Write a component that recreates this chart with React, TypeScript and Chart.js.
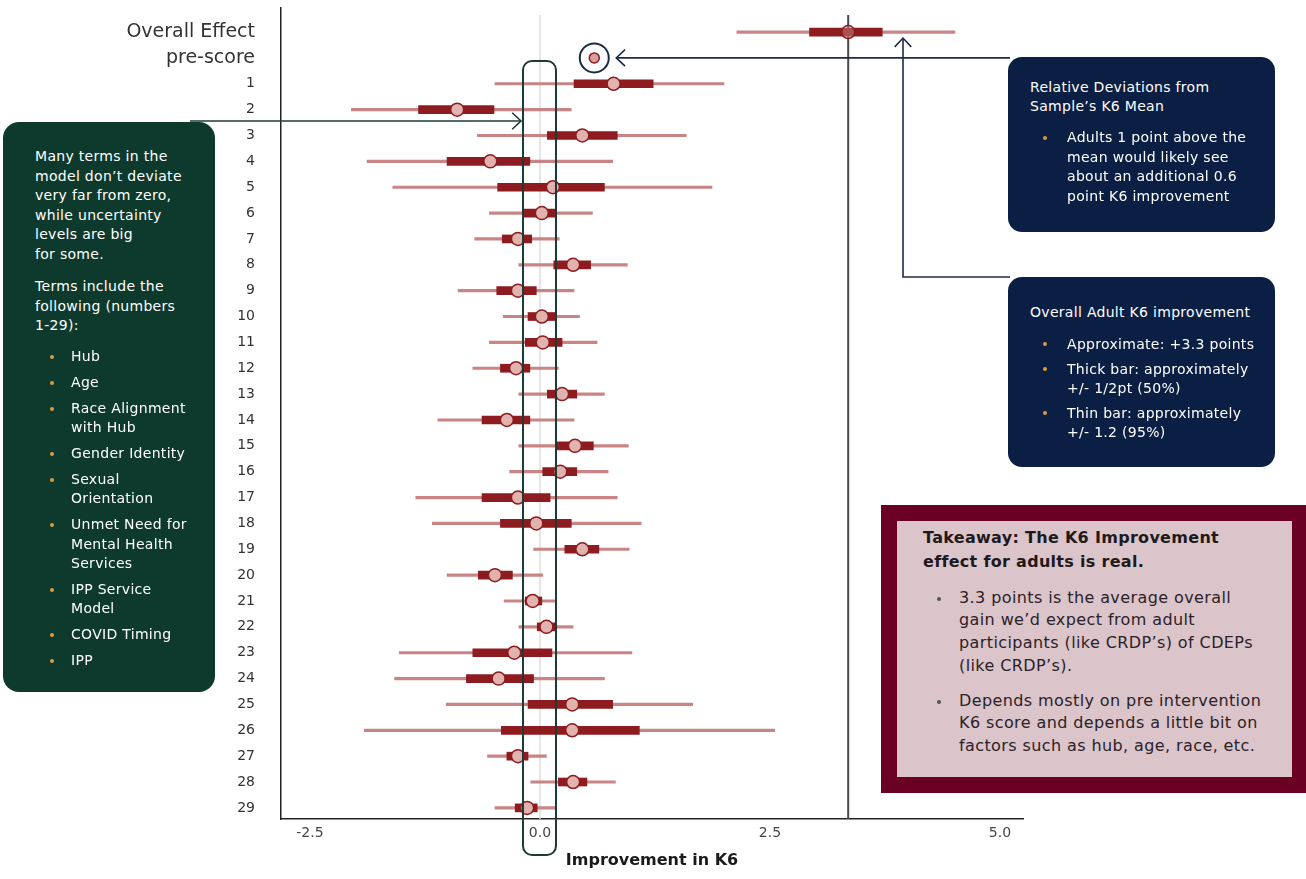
import React, { useEffect, useRef } from 'react';
import { Chart, registerables } from 'chart.js';
Chart.register(...registerables);

const FONT = "'DejaVu Sans', sans-serif";

const rowLabels = ['Overall Effect', 'pre-score', '1', '2', '3', '4', '5', '6', '7', '8', '9', '10', '11', '12', '13', '14', '15', '16', '17', '18', '19', '20', '21', '22', '23', '24', '25', '26', '27', '28', '29'];
const estimates = [3.35, 0.59, 0.80, -0.90, 0.46, -0.54, 0.14, 0.02, -0.24, 0.36, -0.24, 0.02, 0.03, -0.26, 0.24, -0.36, 0.38, 0.22, -0.24, -0.04, 0.46, -0.49, -0.08, 0.07, -0.28, -0.45, 0.35, 0.35, -0.24, 0.36, -0.14];
const thickLow = [2.93, null, 0.37, -1.32, 0.08, -1.01, -0.46, -0.18, -0.41, 0.15, -0.47, -0.13, -0.16, -0.43, 0.08, -0.63, 0.17, 0.03, -0.63, -0.43, 0.27, -0.67, -0.16, -0.03, -0.73, -0.80, -0.13, -0.42, -0.36, 0.20, -0.27];
const thickHigh = [3.72, null, 1.23, -0.50, 0.84, -0.11, 0.70, 0.18, -0.09, 0.55, -0.04, 0.16, 0.24, -0.11, 0.40, -0.11, 0.58, 0.40, 0.11, 0.34, 0.64, -0.30, 0.02, 0.16, 0.13, -0.07, 0.79, 1.08, -0.13, 0.51, -0.03];
const thinLow = [2.14, null, -0.49, -2.05, -0.68, -1.88, -1.60, -0.55, -0.71, -0.23, -0.89, -0.40, -0.55, -0.73, -0.23, -1.11, -0.23, -0.33, -1.35, -1.17, -0.07, -1.01, -0.39, -0.23, -1.53, -1.58, -1.02, -1.91, -0.57, -0.10, -0.49];
const thinHigh = [4.51, null, 2.00, 0.34, 1.59, 0.79, 1.87, 0.57, 0.21, 0.95, 0.37, 0.43, 0.62, 0.20, 0.70, 0.37, 0.96, 0.74, 0.84, 1.10, 0.97, 0.03, 0.18, 0.36, 1.00, 0.70, 1.66, 2.55, 0.07, 0.82, 0.18];
const xTickValues = [-2.5, 0, 2.5, 5.0];
const xAxisTitle = 'Improvement in K6';

const greenItems = [['Hub'], ['Age'], ['Race Alignment', 'with Hub'], ['Gender Identity'], ['Sexual', 'Orientation'], ['Unmet Need for', 'Mental Health', 'Services'], ['IPP Service', 'Model'], ['COVID Timing'], ['IPP']];

const NAVY_LINE = '#1c2b45';

function arrowHead(ctx: CanvasRenderingContext2D, x: number, y: number, dir: 'left' | 'right' | 'up') {
  const L = 11;
  ctx.beginPath();
  if (dir === 'left') {
    ctx.moveTo(x + L * 0.8, y - L * 0.75); ctx.lineTo(x, y); ctx.lineTo(x + L * 0.8, y + L * 0.75);
  } else if (dir === 'right') {
    ctx.moveTo(x - L * 0.8, y - L * 0.75); ctx.lineTo(x, y); ctx.lineTo(x - L * 0.8, y + L * 0.75);
  } else {
    ctx.moveTo(x - L * 0.75, y + L * 0.8); ctx.lineTo(x, y); ctx.lineTo(x + L * 0.75, y + L * 0.8);
  }
  ctx.stroke();
}

const annotPlugin = {
  id: 'annot',
  beforeDatasetsDraw(chart: any) {
    const { ctx, scales, chartArea } = chart;
    const xs = scales.x;
    ctx.save();
    const x0 = xs.getPixelForValue(0);
    ctx.strokeStyle = '#dedede';
    ctx.lineWidth = 1.5;
    ctx.beginPath(); ctx.moveTo(x0, 15); ctx.lineTo(x0, chartArea.bottom); ctx.stroke();
    const xo = xs.getPixelForValue(estimates[0]);
    ctx.strokeStyle = '#4a4a4a';
    ctx.lineWidth = 2;
    ctx.beginPath(); ctx.moveTo(xo, 15); ctx.lineTo(xo, chartArea.bottom); ctx.stroke();
    ctx.restore();
  },
  afterDatasetsDraw(chart: any) {
    const { ctx, scales } = chart;
    const xs = scales.x, ys = scales.y;
    ctx.save();
    const x0 = xs.getPixelForValue(0);
    ctx.strokeStyle = '#1d3b36';
    ctx.lineWidth = 2;
    ctx.beginPath();
    (ctx as any).roundRect(x0 - 17, 61, 33, 794, 9);
    ctx.stroke();
    const px = xs.getPixelForValue(estimates[1]);
    const py = ys.getPixelForValue(1);
    ctx.strokeStyle = NAVY_LINE;
    ctx.lineWidth = 2;
    ctx.beginPath(); ctx.arc(px, py, 14.5, 0, Math.PI * 2); ctx.stroke();
    ctx.lineWidth = 1.6;
    ctx.strokeStyle = NAVY_LINE;
    ctx.beginPath(); ctx.moveTo(1010, py); ctx.lineTo(px + 22, py); ctx.stroke();
    arrowHead(ctx, px + 22, py, 'left');
    const ox = 903;
    const oy = ys.getPixelForValue(0) + 6;
    ctx.beginPath(); ctx.moveTo(1010, 277); ctx.lineTo(ox, 277); ctx.lineTo(ox, oy); ctx.stroke();
    arrowHead(ctx, ox, oy, 'up');
    ctx.strokeStyle = '#1d3b36';
    ctx.beginPath(); ctx.moveTo(190, 121); ctx.lineTo(x0 - 19, 121); ctx.stroke();
    arrowHead(ctx, x0 - 19, 121, 'right');
    ctx.restore();
  },
};

function Dot({ color, left, top }: { color: string; left: number; top: number }) {
  return <span style={{ position: 'absolute', left, top, width: 4, height: 4, borderRadius: '50%', background: color }} />;
}

export default function App() {
  const ref = useRef<HTMLCanvasElement>(null);
  useEffect(() => {
    const canvas = ref.current!;
    const idx = rowLabels.map((_, i) => i);
    const thinData = idx.filter((i) => thinLow[i] != null).map((i) => ({ y: i, x: [thinLow[i], thinHigh[i]] }));
    const thickData = idx.filter((i) => thickLow[i] != null).map((i) => ({ y: i, x: [thickLow[i], thickHigh[i]] }));
    const pointData = idx.map((i) => ({ x: estimates[i], y: i }));
    const chart = new Chart(canvas, {
      type: 'scatter',
      data: {
        datasets: [
          { type: 'bar', indexAxis: 'y', data: thinData as any, backgroundColor: '#c98585', barThickness: 2.5, grouped: false, order: 3, borderWidth: 0 } as any,
          { type: 'bar', indexAxis: 'y', data: thickData as any, backgroundColor: '#8e1b1f', barThickness: 8, grouped: false, order: 2, borderWidth: 0 } as any,
          {
            type: 'scatter',
            data: pointData,
            order: 1,
            pointRadius: idx.map((i) => (i === 0 ? 6.5 : i === 1 ? 5 : 6.5)),
            pointBackgroundColor: idx.map((i) => (i === 0 ? 'rgba(226,177,174,0.35)' : i === 1 ? '#dc9c99' : '#e2b2af')),
            pointBorderColor: '#8b1c1f',
            pointBorderWidth: 1.5,
          } as any,
        ],
      },
      options: {
        animation: false,
        responsive: false,
        maintainAspectRatio: false,
        layout: { padding: { top: 8, left: 0, right: 283, bottom: 0 } },
        plugins: { legend: { display: false }, tooltip: { enabled: false } },
        scales: {
          x: {
            type: 'linear',
            offset: false,
            min: -2.815,
            max: 5.25,
            afterBuildTicks: (s: any) => { s.ticks = xTickValues.map((v) => ({ value: v })); },
            afterFit: (s: any) => { s.height = 60; s.paddingLeft = 0; s.paddingRight = 0; },
            grid: { display: false, drawTicks: false, offset: false },
            border: { display: true, color: '#222', width: 1.5 },
            ticks: { padding: 6, color: '#444', font: { family: FONT, size: 14 }, callback: (v: any) => Number(v).toFixed(1) },
            title: { display: true, text: xAxisTitle, color: '#1a1a1a', font: { family: FONT, size: 16, weight: 'bold' }, padding: { top: 0, bottom: 9 } },
          },
          y: {
            type: 'linear',
            offset: false,
            reverse: true,
            min: -0.93,
            max: 30.43,
            afterBuildTicks: (s: any) => { s.ticks = rowLabels.map((_, i) => ({ value: i })); },
            afterFit: (s: any) => { s.width = 281; s.paddingTop = 0; s.paddingBottom = 0; },
            grid: { display: false, drawTicks: false, offset: false },
            border: { display: true, color: '#222', width: 1.5 },
            ticks: {
              autoSkip: false,
              padding: 26,
              color: '#333',
              font: (c: any) => (c.index < 2 ? { family: FONT, size: 19 } : { family: FONT, size: 14 }),
              callback: (v: any) => rowLabels[v as number] ?? '',
            },
          },
        },
      } as any,
      plugins: [annotPlugin as any],
    });
    return () => chart.destroy();
  }, []);

  const orange = '#dc9a3c';
  const boxText = { fontSize: 14, letterSpacing: '0.3px' };
  return (
    <div style={{ position: 'absolute', left: 0, top: 0, width: 1306, height: 879, background: '#fff', fontFamily: FONT, overflow: 'hidden' }}>
      <canvas ref={ref} width={1306} height={879} style={{ position: 'absolute', left: 0, top: 0, display: 'block' }} />

      <div style={{ position: 'absolute', left: 3, top: 122, width: 212, height: 570, background: '#0d3a2d', borderRadius: 16, color: '#fff', ...boxText, lineHeight: '19.5px', padding: '25px 0 0 32px', boxSizing: 'border-box', whiteSpace: 'nowrap' }}>
        <div>Many terms in the<br />model don’t deviate<br />very far from zero,<br />while uncertainty<br />levels are big<br />for some.</div>
        <div style={{ marginTop: 13 }}>Terms include the<br />following (numbers<br />1-29):</div>
        <div style={{ marginTop: 11.5 }}>
          {greenItems.map((lines, i) => (
            <div key={i} style={{ position: 'relative', paddingLeft: 36, marginTop: i ? 6.8 : 0, lineHeight: '19.2px' }}>
              <Dot color={orange} left={15} top={8} />
              {lines.map((l, j) => (<div key={j}>{l}</div>))}
            </div>
          ))}
        </div>
      </div>

      <div style={{ position: 'absolute', left: 1008, top: 57, width: 267, height: 175, background: '#0b1e44', borderRadius: 14, color: '#fff', ...boxText, lineHeight: '18.5px', padding: '21px 0 0 22px', boxSizing: 'border-box', whiteSpace: 'nowrap' }}>
        <div>Relative Deviations from<br />Sample’s K6 Mean</div>
        <div style={{ position: 'relative', marginTop: 13, paddingLeft: 37, lineHeight: '19.5px' }}>
          <Dot color={orange} left={13} top={8} />
          Adults 1 point above the<br />mean would likely see<br />about an additional 0.6<br />point K6 improvement
        </div>
      </div>

      <div style={{ position: 'absolute', left: 1008, top: 277, width: 267, height: 190, background: '#0b1e44', borderRadius: 14, color: '#fff', ...boxText, lineHeight: '18.5px', padding: '26px 0 0 22px', boxSizing: 'border-box', whiteSpace: 'nowrap' }}>
        <div>Overall Adult K6 improvement</div>
        {[['Approximate: +3.3 points'], ['Thick bar: approximately', '+/- 1/2pt (50%)'], ['Thin bar: approximately', '+/- 1.2 (95%)']].map((lines, i) => (
          <div key={i} style={{ position: 'relative', marginTop: i ? 7 : 13, paddingLeft: 37 }}>
            <Dot color={orange} left={13} top={7} />
            {lines.map((l, j) => (<div key={j}>{l}</div>))}
          </div>
        ))}
      </div>

      <div style={{ position: 'absolute', left: 881, top: 505, width: 425, height: 288, background: '#6a0023' }} />
      <div style={{ position: 'absolute', left: 897, top: 521, width: 395, height: 256, background: '#dcc4cb', color: '#2a2226', fontSize: 16, letterSpacing: '0.4px', padding: '5px 0 0 26px', boxSizing: 'border-box', whiteSpace: 'nowrap' }}>
        <div style={{ fontWeight: 'bold', lineHeight: '23.5px', color: '#1e1a1c', letterSpacing: '0.3px' }}>Takeaway: The K6 Improvement<br />effect for adults is real.</div>
        <div style={{ position: 'relative', marginTop: 13.5, paddingLeft: 36, lineHeight: '22.7px' }}>
          <Dot color="#555" left={14} top={10} />
          3.3 points is the average overall<br />gain we’d expect from adult<br />participants (like CRDP’s) of CDEPs<br />(like CRDP’s).
        </div>
        <div style={{ position: 'relative', marginTop: 12.3, paddingLeft: 36, lineHeight: '22.7px' }}>
          <Dot color="#555" left={14} top={10} />
          Depends mostly on pre intervention<br />K6 score and depends a little bit on<br />factors such as hub, age, race, etc.
        </div>
      </div>
    </div>
  );
}
